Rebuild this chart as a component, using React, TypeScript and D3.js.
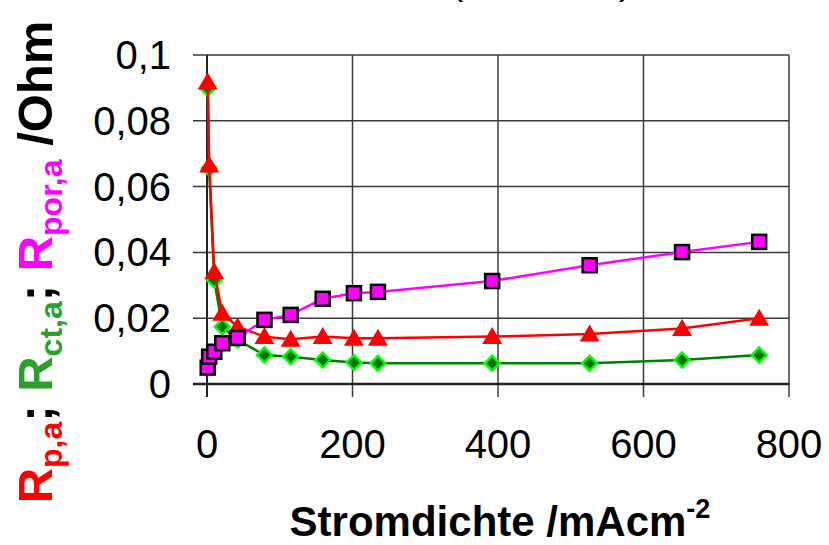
import React, { useEffect, useRef } from 'react';
import * as d3 from 'd3';

// Stromdichte in mA/cm^2
const currentDensity = [1, 3, 10, 21, 42, 79, 115, 159, 202, 235, 392, 526, 653, 759];
const rPolarisation = [0.0918, 0.0666, 0.0341, 0.0215, 0.0174, 0.0144, 0.0136, 0.0144, 0.0139, 0.0139, 0.0144, 0.0152, 0.0169, 0.02];
const rChargeTransfer = [0.0899, 0.0656, 0.0316, 0.0174, 0.0134, 0.0088, 0.0083, 0.0073, 0.0065, 0.0063, 0.0063, 0.0063, 0.0073, 0.0088];
const rPore = [0.005, 0.0083, 0.0098, 0.0124, 0.014, 0.0195, 0.021, 0.0259, 0.0276, 0.028, 0.0313, 0.0361, 0.0401, 0.0432];

const xTicks = [0, 200, 400, 600, 800];
const yTicks = [0, 0.02, 0.04, 0.06, 0.08, 0.1];
const yTickLabels = ['0', '0,02', '0,04', '0,06', '0,08', '0,1'];

const FONT = '"Liberation Sans", Arial, sans-serif';

const App = () => {
  const ref = useRef<SVGSVGElement>(null);

  useEffect(() => {
    const svg = d3.select(ref.current);
    svg.selectAll('*').remove();

    const x = d3.scaleLinear().domain([0, 800]).range([207, 789]);
    const y = d3.scaleLinear().domain([0, 0.1]).range([384, 55]);

    // gridlines (extend past axes as tick marks)
    svg.append('g')
      .selectAll('line')
      .data(yTicks.slice(1))
      .enter()
      .append('line')
      .attr('x1', 193).attr('x2', x(800))
      .attr('y1', d => y(d)).attr('y2', d => y(d))
      .attr('stroke', '#3a3a3a')
      .attr('stroke-width', 1.5);

    svg.append('g')
      .selectAll('line')
      .data(xTicks.slice(1))
      .enter()
      .append('line')
      .attr('x1', d => x(d)).attr('x2', d => x(d))
      .attr('y1', y(0.1)).attr('y2', 397)
      .attr('stroke', '#3a3a3a')
      .attr('stroke-width', 1.5);

    // axes
    svg.append('line')
      .attr('x1', 193).attr('x2', x(800))
      .attr('y1', y(0)).attr('y2', y(0))
      .attr('stroke', '#222').attr('stroke-width', 2.5);
    svg.append('line')
      .attr('x1', x(0)).attr('x2', x(0))
      .attr('y1', y(0.1)).attr('y2', 397)
      .attr('stroke', '#222').attr('stroke-width', 2);

    // tick labels
    svg.append('g')
      .selectAll('text')
      .data(yTicks)
      .enter()
      .append('text')
      .attr('x', 171)
      .attr('y', d => y(d) + 14)
      .attr('text-anchor', 'end')
      .style('font-family', FONT)
      .style('font-size', '40px')
      .text((d, i) => yTickLabels[i]);

    svg.append('g')
      .selectAll('text')
      .data(xTicks)
      .enter()
      .append('text')
      .attr('x', d => x(d))
      .attr('y', 458)
      .attr('text-anchor', 'middle')
      .style('font-family', FONT)
      .style('font-size', '40px')
      .text(d => d);

    const line = d3.line<number>()
      .x((d, i) => x(currentDensity[i]))
      .y(d => y(d));

    // green: R ct,a
    svg.append('path')
      .attr('d', line(rChargeTransfer))
      .attr('fill', 'none')
      .attr('stroke', '#008000')
      .attr('stroke-width', 2.5);
    svg.append('g')
      .selectAll('path')
      .data(rChargeTransfer)
      .enter()
      .append('path')
      .attr('d', d3.symbol().type(d3.symbolDiamond2).size(140)())
      .attr('transform', (d, i) => `translate(${x(currentDensity[i])},${y(d)})`)
      .attr('fill', '#007000')
      .attr('stroke', '#00ff00')
      .attr('stroke-width', 2.5);

    // red: R p,a
    svg.append('path')
      .attr('d', line(rPolarisation))
      .attr('fill', 'none')
      .attr('stroke', '#ff0000')
      .attr('stroke-width', 2.5);
    svg.append('g')
      .selectAll('path')
      .data(rPolarisation)
      .enter()
      .append('path')
      .attr('d', () => {
        const w = 10, h = 17;
        return `M0,${-h / 2 - 1}L${w},${h / 2 - 1}L${-w},${h / 2 - 1}Z`;
      })
      .attr('transform', (d, i) => `translate(${x(currentDensity[i])},${y(d)})`)
      .attr('fill', '#ff0000');

    // magenta: R por,a
    svg.append('path')
      .attr('d', line(rPore))
      .attr('fill', 'none')
      .attr('stroke', '#ff00ff')
      .attr('stroke-width', 2.5);
    svg.append('g')
      .selectAll('rect')
      .data(rPore)
      .enter()
      .append('rect')
      .attr('x', (d, i) => x(currentDensity[i]) - 7)
      .attr('y', d => y(d) - 7)
      .attr('width', 14)
      .attr('height', 14)
      .attr('fill', '#ff00ff')
      .attr('stroke', '#000')
      .attr('stroke-width', 2.5);

    // x title
    const xt = svg.append('text')
      .attr('x', 500)
      .attr('y', 536)
      .attr('text-anchor', 'middle')
      .style('font-family', FONT)
      .style('font-weight', 'bold')
      .style('font-size', '42px');
    xt.append('tspan').text('Stromdichte /mAcm');
    xt.append('tspan').attr('dy', -18).style('font-size', '27px').text('-2');

    // y title, multicoloured
    const yt = svg.append('text')
      .attr('transform', 'translate(52,262) rotate(-90)')
      .attr('text-anchor', 'middle')
      .style('font-family', FONT)
      .style('font-weight', 'bold')
      .style('font-size', '49px');
    const parts: [string, string, boolean][] = [
      ['R', '#ff0000', false], ['p,a', '#ff0000', true], [';', '#000', false], [' R', '#2ca02c', false],
      ['ct,a', '#2ca02c', true], [';', '#000', false], [' R', '#ff00ff', false], ['por,a', '#ff00ff', true],
      [' /Ohm', '#000', false],
    ];
    let sub = false;
    parts.forEach(([t, c, s]) => {
      const dy = s && !sub ? 10 : !s && sub ? -10 : 0;
      yt.append('tspan')
        .attr('dy', dy)
        .attr('fill', c)
        .style('font-size', s ? '32px' : '49px')
        .text(t);
      sub = s;
    });

    // title, cut off at top edge (only the parenthesis tails are visible)
    svg.append('text')
      .attr('x', 541)
      .attr('y', -6)
      .attr('text-anchor', 'middle')
      .attr('xml:space', 'preserve')
      .style('white-space', 'pre')
      .style('font-family', FONT)
      .style('font-size', '40px')
      .text('(              )');
  }, []);

  return (
    <svg
      ref={ref}
      width={829}
      height={545}
      style={{ position: 'absolute', left: 0, top: 0, background: '#fff' }}
    />
  );
};

export default App;
